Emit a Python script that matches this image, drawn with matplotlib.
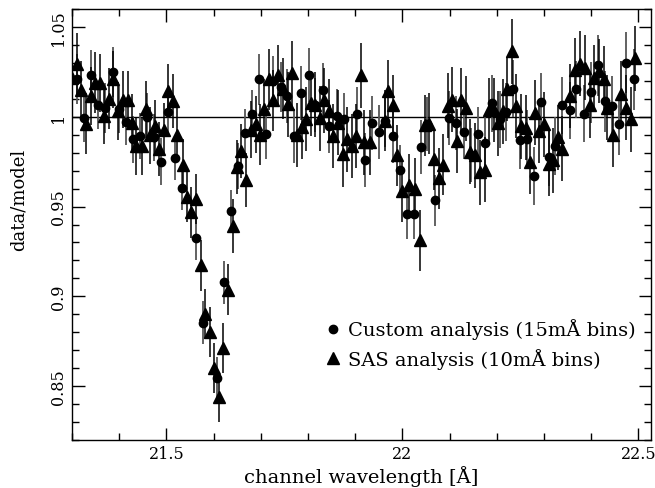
import matplotlib
matplotlib.use("Agg")
import matplotlib.pyplot as plt
from matplotlib.ticker import MultipleLocator, FuncFormatter
from matplotlib.lines import Line2D

# Custom analysis (15 mA bins)
cx = [21.3112, 21.3255, 21.3403, 21.3558, 21.3706, 21.3859, 21.3997, 21.4139, 21.4292, 21.4442,
      21.4591, 21.4739, 21.4888, 21.5036, 21.5185, 21.5339, 21.5634, 21.5778, 21.6082, 21.6224,
      21.6372, 21.6521, 21.6669, 21.6818, 21.6966, 21.7115, 21.7269, 21.7426, 21.7566, 21.7708,
      21.7857, 21.8012, 21.8154, 21.8309, 21.8451, 21.8614, 21.8754, 21.9045, 21.9204, 21.9358,
      21.9505, 21.9628, 21.9797, 21.9952, 22.0105, 22.0249, 22.0396, 22.0530, 22.0695, 22.0989,
      22.1144, 22.1299, 22.1452, 22.1594, 22.1744, 22.1901, 22.2063, 22.2198, 22.2345, 22.2489,
      22.2644, 22.2799, 22.2947, 22.3102, 22.3244, 22.3386, 22.3547, 22.3689, 22.3859, 22.4001,
      22.4149, 22.4304, 22.4446, 22.4601, 22.4750, 22.4904]
cy = [1.0212, 0.9992, 1.0230, 1.0063, 1.0050, 1.0251, 1.0041, 0.9972, 0.9874, 0.9892,
      1.0000, 0.9885, 0.9749, 1.0027, 0.9768, 0.9603, 0.9323, 0.8853, 0.8544, 0.9079,
      0.9473, 0.9725, 0.9911, 1.0017, 1.0208, 0.9905, 1.0198, 1.0165, 1.0115, 0.9892,
      1.0134, 1.0232, 1.0063, 1.0149, 0.9946, 1.0002, 0.9985, 1.0014, 0.9757, 0.9967,
      0.9916, 0.9979, 0.9894, 0.9703, 0.9458, 0.9458, 0.9832, 0.9962, 0.9534, 0.9994,
      0.9964, 0.9915, 0.9787, 0.9906, 0.9853, 1.0075, 0.9985, 1.0027, 1.0156, 0.9870,
      0.9877, 0.9669, 1.0081, 0.9777, 0.9836, 1.0063, 1.0035, 1.0152, 1.0018, 1.0137,
      1.0286, 1.0087, 1.0059, 0.9957, 1.0301, 1.0208]
cerr = [0.014, 0.013, 0.014, 0.013, 0.014, 0.014, 0.013, 0.013, 0.013, 0.013,
        0.013, 0.013, 0.013, 0.013, 0.012, 0.012, 0.012, 0.012, 0.012, 0.012,
        0.012, 0.013, 0.013, 0.013, 0.014, 0.014, 0.014, 0.014, 0.015, 0.015,
        0.015, 0.015, 0.015, 0.015, 0.015, 0.015, 0.015, 0.015, 0.015, 0.015,
        0.015, 0.015, 0.015, 0.014, 0.014, 0.014, 0.015, 0.015, 0.014, 0.015,
        0.015, 0.015, 0.015, 0.015, 0.015, 0.016, 0.016, 0.016, 0.016, 0.016,
        0.016, 0.016, 0.016, 0.016, 0.016, 0.016, 0.016, 0.016, 0.016, 0.017,
        0.017, 0.017, 0.017, 0.017, 0.017, 0.017]

# SAS analysis (10 mA bins)
tx = [21.3006, 21.3106, 21.3201, 21.3303, 21.3403, 21.3494, 21.3600, 21.3685, 21.3778, 21.3876,
      21.3976, 21.4071, 21.4181, 21.4273, 21.4351, 21.4474, 21.4565, 21.4654, 21.4756, 21.4849,
      21.4955, 21.5040, 21.5146, 21.5233, 21.5344, 21.5433, 21.5530, 21.5626, 21.5730, 21.5817,
      21.5927, 21.6012, 21.6118, 21.6209, 21.6302, 21.6404, 21.6506, 21.6589, 21.6697, 21.6796,
      21.6896, 21.6987, 21.7079, 21.7178, 21.7269, 21.7375, 21.7481, 21.7575, 21.7666, 21.7761,
      21.7872, 21.7963, 21.8058, 21.8154, 21.8245, 21.8345, 21.8436, 21.8531, 21.8637, 21.8733,
      21.8822, 21.8924, 21.9023, 21.9123, 21.9197, 21.9314, 21.9628, 21.9702, 21.9797, 21.9897,
      21.9988, 22.0137, 22.0279, 22.0381, 22.0487, 22.0557, 22.0671, 22.0767, 22.0854, 22.0960,
      22.1053, 22.1159, 22.1244, 22.1350, 22.1441, 22.1547, 22.1638, 22.1744, 22.1829, 22.1935,
      22.2029, 22.2135, 22.2219, 22.2325, 22.2410, 22.2512, 22.2629, 22.2714, 22.2805, 22.2905,
      22.3011, 22.3102, 22.3195, 22.3293, 22.3386, 22.3562, 22.3668, 22.3774, 22.3880, 22.3971,
      22.4056, 22.4162, 22.4268, 22.4340, 22.4459, 22.4644, 22.4750, 22.4856, 22.4941]
ty = [1.0213, 1.0295, 1.0149, 0.9960, 1.0116, 1.0189, 1.0188, 1.0006, 1.0100, 1.0208,
      1.0031, 1.0096, 1.0096, 0.9964, 0.9836, 0.9836, 1.0041, 0.9896, 0.9946, 0.9822,
      0.9929, 1.0143, 1.0087, 0.9901, 0.9734, 0.9552, 0.9467, 0.9543, 0.9172, 0.8903,
      0.8800, 0.8602, 0.8441, 0.8713, 0.9038, 0.9392, 0.9718, 0.9811, 0.9649, 0.9929,
      0.9957, 0.9901, 1.0041, 1.0208, 1.0091, 1.0230, 1.0156, 1.0069, 1.0242, 0.9899,
      0.9942, 0.9987, 1.0074, 1.0068, 0.9991, 1.0091, 1.0032, 0.9892, 0.9967, 0.9790,
      0.9875, 0.9838, 0.9892, 1.0230, 0.9857, 0.9857, 0.9979, 1.0146, 1.0063, 0.9786,
      0.9586, 0.9620, 0.9600, 0.9313, 0.9952, 0.9961, 0.9762, 0.9658, 0.9734, 1.0062,
      1.0096, 0.9864, 1.0092, 1.0046, 0.9805, 0.9786, 0.9691, 0.9706, 1.0035, 1.0037,
      0.9963, 1.0031, 1.0154, 1.0364, 1.0060, 0.9946, 0.9939, 0.9749, 1.0022, 0.9920,
      0.9957, 0.9738, 0.9757, 0.9886, 0.9823, 1.0115, 1.0258, 1.0295, 1.0273, 1.0063,
      1.0217, 1.0254, 1.0212, 1.0050, 0.9901, 1.0128, 1.0050, 0.9985, 1.0325]
terr = [0.017, 0.017, 0.016, 0.017, 0.016, 0.017, 0.016, 0.016, 0.017, 0.016,
        0.016, 0.016, 0.016, 0.016, 0.016, 0.016, 0.016, 0.016, 0.015, 0.015,
        0.015, 0.015, 0.015, 0.015, 0.014, 0.014, 0.014, 0.014, 0.014, 0.014,
        0.014, 0.014, 0.014, 0.014, 0.014, 0.015, 0.015, 0.015, 0.015, 0.016,
        0.016, 0.017, 0.017, 0.017, 0.017, 0.017, 0.017, 0.018, 0.018, 0.018,
        0.018, 0.018, 0.018, 0.018, 0.018, 0.018, 0.018, 0.018, 0.018, 0.018,
        0.018, 0.018, 0.018, 0.018, 0.018, 0.018, 0.017, 0.017, 0.017, 0.017,
        0.017, 0.017, 0.017, 0.017, 0.017, 0.017, 0.017, 0.017, 0.017, 0.018,
        0.018, 0.018, 0.018, 0.018, 0.018, 0.018, 0.018, 0.018, 0.018, 0.018,
        0.018, 0.018, 0.018, 0.018, 0.018, 0.018, 0.018, 0.018, 0.018, 0.018,
        0.018, 0.018, 0.018, 0.018, 0.018, 0.018, 0.018, 0.018, 0.018, 0.018,
        0.018, 0.018, 0.018, 0.018, 0.018, 0.018, 0.018, 0.018, 0.018]

labels = ["Custom analysis (15mÅ bins)", "SAS analysis (10mÅ bins)"]
xlabel = "channel wavelength [Å]"
ylabel = "data/model"

plt.rcParams['font.family'] = ['DejaVu Serif']
fig = plt.figure(figsize=(6.55, 4.89), dpi=100)
ax = fig.add_axes([72/655, 48/489, 579/655, 431/489])

ax.axhline(1.0, color='black', lw=1.0, zorder=1)

ax.errorbar(cx, cy, yerr=cerr, fmt='none', ecolor='#555555', elinewidth=1.3, capsize=0, zorder=2)
ax.errorbar(tx, ty, yerr=terr, fmt='none', ecolor='black', elinewidth=1.1, capsize=0, zorder=2)
ax.plot(cx, cy, 'o', color='black', ms=6, zorder=3)
ax.plot(tx, ty, '^', color='black', ms=8.5, zorder=3)

ax.set_xlim(21.3, 22.527)
ax.set_ylim(0.82, 1.06)
ax.xaxis.set_major_locator(MultipleLocator(0.5))
ax.xaxis.set_minor_locator(MultipleLocator(0.1))
ax.yaxis.set_major_locator(MultipleLocator(0.05))
ax.yaxis.set_minor_locator(MultipleLocator(0.01))
fmt = FuncFormatter(lambda v, p: ('%.2f' % v).rstrip('0').rstrip('.'))
ax.xaxis.set_major_formatter(fmt)
ax.yaxis.set_major_formatter(fmt)
ax.tick_params(which='both', direction='in', top=True, right=True, width=1.0, labelsize=11.5)
ax.tick_params(which='major', length=9)
ax.tick_params(which='minor', length=5)
for lab in ax.get_yticklabels():
    lab.set_rotation(90)
    lab.set_va('center')
for s in ax.spines.values():
    s.set_linewidth(1.0)

ax.set_xlabel(xlabel, fontsize=14, labelpad=2)
ax.set_ylabel(ylabel, fontsize=13, labelpad=4)
ax.yaxis.set_label_coords(-0.077, 0.56)

handles = [Line2D([], [], ls='none', marker='o', color='black', ms=6),
           Line2D([], [], ls='none', marker='^', color='black', ms=8.5)]
ax.legend(handles, labels, loc='upper left', bbox_to_anchor=(0.42, 0.30), frameon=False,
          fontsize=14, handletextpad=0.3, labelspacing=0.45, handlelength=1.0, borderaxespad=0)

fig.savefig('out.png', dpi=100)
